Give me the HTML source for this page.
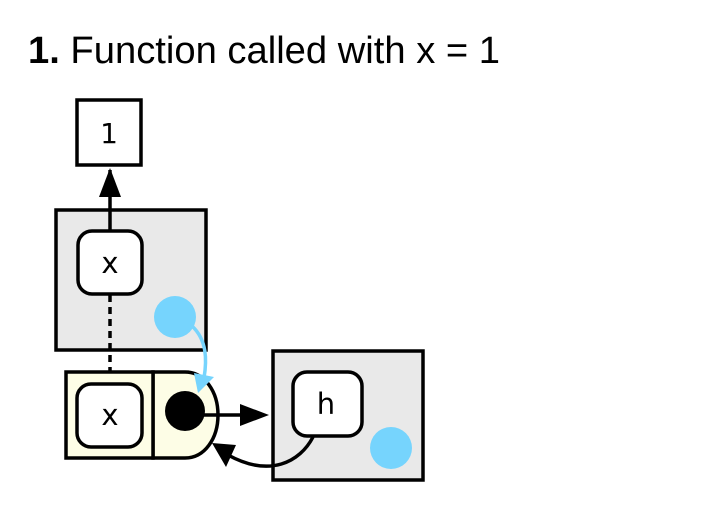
<!DOCTYPE html>
<html><head><meta charset="utf-8"><style>
html,body{margin:0;padding:0;background:#fff;}
svg{display:block;}
</style></head><body>
<svg width="727" height="506" viewBox="0 0 727 506" xmlns="http://www.w3.org/2000/svg">
<text x="28" y="63" font-family="Liberation Sans, sans-serif" font-size="38" fill="#000" textLength="472" lengthAdjust="spacingAndGlyphs"><tspan font-weight="bold">1.</tspan> Function called with x = 1</text>

<g>
<rect x="77" y="100" width="64" height="65" fill="#fff" stroke="#000" stroke-width="3.5"/>
<text x="109" y="143" text-anchor="middle" font-family="DejaVu Sans, sans-serif" font-size="28">1</text>
</g>

<rect x="56" y="210" width="150" height="140" fill="#e9e9e9" stroke="#000" stroke-width="3.5"/>
<line x1="110" y1="230" x2="110" y2="170" stroke="#000" stroke-width="3.5"/>
<path d="M99,197 L110,168 L121,197 z" fill="#000"/>
<line x1="110" y1="295" x2="110" y2="384" stroke="#000" stroke-width="3.5" stroke-dasharray="7,5"/>
<g>
<rect x="78" y="231" width="64" height="63" rx="14" fill="#fff" stroke="#000" stroke-width="3.5"/>
<text x="110" y="273" text-anchor="middle" font-family="DejaVu Sans, sans-serif" font-size="29">x</text>
</g>
<circle cx="175" cy="317" r="21" fill="#76d4fd"/>

<g>
<path d="M153,372 L185,372 C205,372 218,392 218,415 C218,438 205,458 185,458 L153,458 z" fill="#fdfde6" stroke="#000" stroke-width="3.5"/>
<rect x="66" y="372" width="87" height="86" fill="#fdfde6" stroke="#000" stroke-width="3.5"/>
</g>
<g>
<rect x="77" y="384" width="65" height="63" rx="14" fill="#fff" stroke="#000" stroke-width="3.5"/>
<text x="110" y="425" text-anchor="middle" font-family="DejaVu Sans, sans-serif" font-size="29">x</text>
</g>
<circle cx="185" cy="411" r="20" fill="#000"/>
<path d="M192,326 C207,340 207,360 204,378" fill="none" stroke="#76d4fd" stroke-width="3.5"/>
<path d="M194,373 L198,393 L214,377 z" fill="#76d4fd"/>
<line x1="195" y1="415" x2="250" y2="415" stroke="#000" stroke-width="3.5"/>
<path d="M240,404 L269,415 L240,426 z" fill="#000"/>

<rect x="273" y="351" width="150" height="129" fill="#e9e9e9" stroke="#000" stroke-width="3.5"/>
<g>
<rect x="293" y="372" width="69" height="64" rx="14" fill="#fff" stroke="#000" stroke-width="3.5"/>
<text x="326" y="414" text-anchor="middle" font-family="DejaVu Sans, sans-serif" font-size="29">h</text>
</g>
<circle cx="391" cy="448" r="21" fill="#76d4fd"/>
<path d="M313,437 C300,462 270,478 228,455" fill="none" stroke="#000" stroke-width="3.5"/>
<path d="M212,443 L236,445 L226,467 z" fill="#000"/>
</svg>
</body></html>
